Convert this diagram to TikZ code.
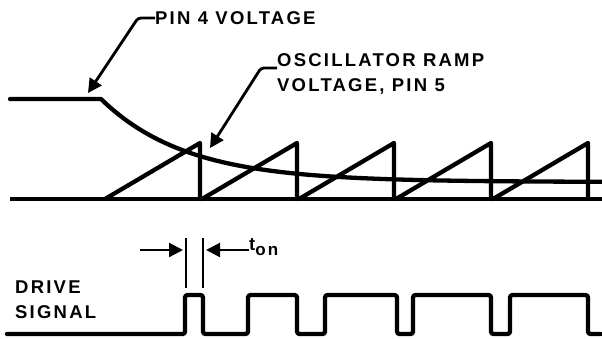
\documentclass[tikz,border=0pt]{standalone}
\usepackage{fontspec}
\newfontfamily\lblfont[LetterSpace=12]{Liberation Sans}
\usetikzlibrary{arrows.meta}

\begin{document}
\begin{tikzpicture}[x=1pt, y=-1pt,
  >={Triangle[length=14pt, width=14pt]},
  lbl/.style={font=\lblfont\bfseries\fontsize{18.5}{25}\selectfont, inner sep=0pt, align=left},
  sig/.style={line width=4.3pt, line join=round, line cap=round},
  base/.style={line width=3.4pt},
  lead/.style={->, line width=2.8pt, rounded corners=3pt},
  tick/.style={line width=1.5pt}]
  \useasboundingbox (0,0) rectangle (602,338);

  % labels
  \node[lbl, anchor=west] (pin4) at (155,18) {PIN 4 VOLTAGE};
  \node[lbl, anchor=west] (ramp) at (277,73.5) {OSCILLATOR RAMP\\VOLTAGE, PIN 5};
  \node[lbl, anchor=west] (drive) at (15,299.5) {DRIVE\\SIGNAL};
  \node[lbl, anchor=west] (ton) at (249,247) {t\raisebox{-5pt}{\fontsize{17}{17}\selectfont on}};

  \coordinate (pin4tip) at (88,93);
  \coordinate (ramptip) at (210,148);

  % upper traces
  \draw[base] (10,199) -- (602,199);
  \draw[sig] (10,99) -- (101,99)
    plot[domain=101:602, samples=80] (\x, {182-83*exp(-(\x-101)/85)});
  \foreach \p in {200,297,394,491,588}
    \draw[sig] (\p-95,199) -- (\p,143) -- (\p,199);

  \draw[lead] (pin4.west) -- ++(-17,0) -- (pin4tip);
  \draw[lead] ([yshift=5.5pt]ramp.west) -- ++(-16,0) -- (ramptip);

  % drive signal
  \draw[sig, rounded corners=2.5pt] (7,334)
    foreach \a/\b in {185/203,248/297,325/397,413/491,510/588} { -| (\a,295) -| (\b,334) }
    -- (601,334);

  % pulse width
  \coordinate (onL) at (186,238);
  \coordinate (onR) at (203,238);
  \coordinate (tail) at (140,250);
  \draw[tick] (onL) -- ++(0,50);
  \draw[tick] (onR) -- ++(0,50);
  \draw[->, line width=2.2pt] (tail) -- ([xshift=-3pt]onL |- tail);
  \draw[->, line width=2.2pt] (ton.west |- tail) -- ([xshift=3pt]onR |- tail);
\end{tikzpicture}
\end{document}
